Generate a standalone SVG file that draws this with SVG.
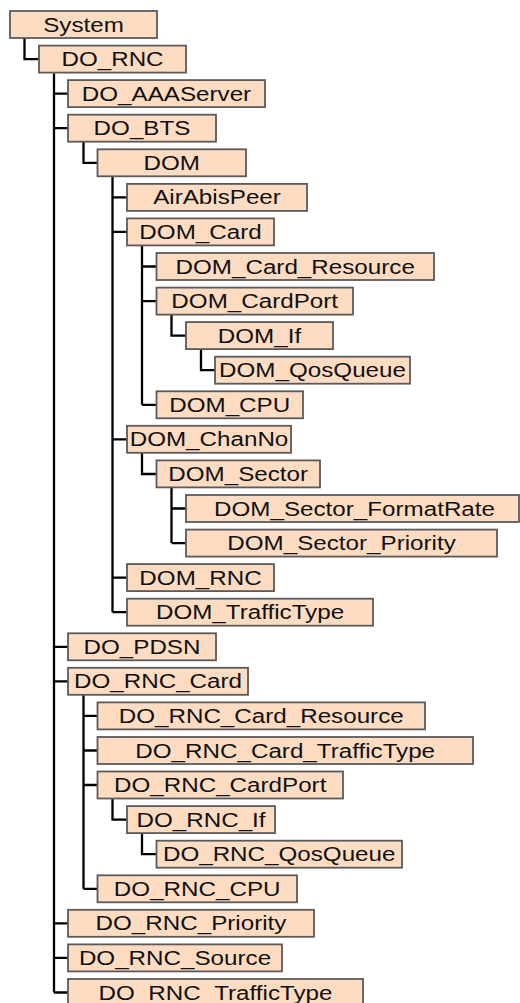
<svg xmlns="http://www.w3.org/2000/svg" width="520" height="1003" viewBox="0 0 520 1003">
<style>
.box{fill:#FDDCC2;stroke:#5a5a5a;stroke-width:1.8}
.lbl{font-family:"Liberation Sans",Arial,sans-serif;font-size:20px;fill:#111;text-anchor:middle}
.cn{fill:none;stroke:#000;stroke-width:2.3}
</style>
<rect width="520" height="1003" fill="#fff"/>
<g id="connectors">
<path class="cn" d="M24.5,38 V59.1 H39"/>
<path class="cn" d="M54,73.6 V992.5 M54,93.6 H68 M54,128.2 H68 M54,646.8 H68 M54,681.3 H68 M54,923.3 H68 M54,957.9 H68 M54,992.5 H68"/>
<path class="cn" d="M83.5,141.7 V162.8 H97.5"/>
<path class="cn" d="M112.5,176.3 V612.2 M112.5,197.4 H127 M112.5,231.9 H127 M112.5,439.3 H127 M112.5,577.6 H127 M112.5,612.2 H127"/>
<path class="cn" d="M142,245.4 V404.8 M142,266.5 H156.5 M142,301.1 H156.5 M142,404.8 H156.5"/>
<path class="cn" d="M171.5,314.6 V335.6 H186"/>
<path class="cn" d="M201,349.1 V370.2 H215"/>
<path class="cn" d="M142,452.8 V474 H156.5"/>
<path class="cn" d="M171.5,487.4 V543.1 M171.5,508.5 H186 M171.5,543.1 H186"/>
<path class="cn" d="M83.5,694.8 V888.8 M83.5,715.9 H97.5 M83.5,750.5 H97.5 M83.5,785 H97.5 M83.5,888.8 H97.5"/>
<path class="cn" d="M112.5,798.5 V819.6 H127"/>
<path class="cn" d="M142,833.1 V854.2 H156.5"/>
</g>
<g id="n0"><rect class="box" x="10" y="11" width="147" height="27"/><text class="lbl" transform="translate(83.5,31.5) scale(1.21,1)">System</text></g>
<g id="n1"><rect class="box" x="39" y="45.6" width="147" height="27"/><text class="lbl" transform="translate(112.5,66.1) scale(1.21,1)">DO_RNC</text></g>
<g id="n2"><rect class="box" x="68" y="80.1" width="197" height="27"/><text class="lbl" transform="translate(166.5,100.6) scale(1.21,1)">DO_AAAServer</text></g>
<g id="n3"><rect class="box" x="68" y="114.7" width="148" height="27"/><text class="lbl" transform="translate(142,135.2) scale(1.21,1)">DO_BTS</text></g>
<g id="n4"><rect class="box" x="97.5" y="149.3" width="148.5" height="27"/><text class="lbl" transform="translate(171.7,169.8) scale(1.21,1)">DOM</text></g>
<g id="n5"><rect class="box" x="127" y="183.9" width="180" height="27"/><text class="lbl" transform="translate(217,204.4) scale(1.21,1)">AirAbisPeer</text></g>
<g id="n6"><rect class="box" x="127" y="218.4" width="147" height="27"/><text class="lbl" transform="translate(200.5,238.9) scale(1.21,1)">DOM_Card</text></g>
<g id="n7"><rect class="box" x="156.5" y="253" width="277.5" height="27"/><text class="lbl" transform="translate(295.2,273.5) scale(1.21,1)">DOM_Card_Resource</text></g>
<g id="n8"><rect class="box" x="156.5" y="287.6" width="196.5" height="27"/><text class="lbl" transform="translate(254.7,308.1) scale(1.21,1)">DOM_CardPort</text></g>
<g id="n9"><rect class="box" x="186" y="322.1" width="147" height="27"/><text class="lbl" transform="translate(259.5,342.6) scale(1.21,1)">DOM_If</text></g>
<g id="n10"><rect class="box" x="215" y="356.7" width="195" height="27"/><text class="lbl" transform="translate(312.5,377.2) scale(1.21,1)">DOM_QosQueue</text></g>
<g id="n11"><rect class="box" x="156.5" y="391.3" width="146.5" height="27"/><text class="lbl" transform="translate(229.7,411.8) scale(1.21,1)">DOM_CPU</text></g>
<g id="n12"><rect class="box" x="127" y="425.8" width="164" height="27"/><text class="lbl" transform="translate(209,446.3) scale(1.21,1)">DOM_ChanNo</text></g>
<g id="n13"><rect class="box" x="156.5" y="460.4" width="163.5" height="27"/><text class="lbl" transform="translate(238.2,480.9) scale(1.21,1)">DOM_Sector</text></g>
<g id="n14"><rect class="box" x="186" y="495" width="333" height="27"/><text class="lbl" transform="translate(354.5,515.5) scale(1.21,1)">DOM_Sector_FormatRate</text></g>
<g id="n15"><rect class="box" x="186" y="529.6" width="311" height="27"/><text class="lbl" transform="translate(341.5,550.1) scale(1.21,1)">DOM_Sector_Priority</text></g>
<g id="n16"><rect class="box" x="127" y="564.1" width="147" height="27"/><text class="lbl" transform="translate(200.5,584.6) scale(1.21,1)">DOM_RNC</text></g>
<g id="n17"><rect class="box" x="127" y="598.7" width="246" height="27"/><text class="lbl" transform="translate(250,619.2) scale(1.21,1)">DOM_TrafficType</text></g>
<g id="n18"><rect class="box" x="68" y="633.3" width="148" height="27"/><text class="lbl" transform="translate(142,653.8) scale(1.21,1)">DO_PDSN</text></g>
<g id="n19"><rect class="box" x="68" y="667.8" width="180" height="27"/><text class="lbl" transform="translate(158,688.3) scale(1.21,1)">DO_RNC_Card</text></g>
<g id="n20"><rect class="box" x="97.5" y="702.4" width="327.5" height="27"/><text class="lbl" transform="translate(261.2,722.9) scale(1.21,1)">DO_RNC_Card_Resource</text></g>
<g id="n21"><rect class="box" x="97.5" y="737" width="375.5" height="27"/><text class="lbl" transform="translate(285.2,757.5) scale(1.21,1)">DO_RNC_Card_TrafficType</text></g>
<g id="n22"><rect class="box" x="97.5" y="771.5" width="245.5" height="27"/><text class="lbl" transform="translate(220.2,792) scale(1.21,1)">DO_RNC_CardPort</text></g>
<g id="n23"><rect class="box" x="127" y="806.1" width="148" height="27"/><text class="lbl" transform="translate(201,826.6) scale(1.21,1)">DO_RNC_If</text></g>
<g id="n24"><rect class="box" x="156.5" y="840.7" width="245.5" height="27"/><text class="lbl" transform="translate(279.2,861.2) scale(1.21,1)">DO_RNC_QosQueue</text></g>
<g id="n25"><rect class="box" x="97.5" y="875.3" width="199.5" height="27"/><text class="lbl" transform="translate(197.2,895.8) scale(1.21,1)">DO_RNC_CPU</text></g>
<g id="n26"><rect class="box" x="68" y="909.8" width="246" height="27"/><text class="lbl" transform="translate(191,930.3) scale(1.21,1)">DO_RNC_Priority</text></g>
<g id="n27"><rect class="box" x="68" y="944.4" width="214" height="27"/><text class="lbl" transform="translate(175,964.9) scale(1.21,1)">DO_RNC_Source</text></g>
<g id="n28"><rect class="box" x="68" y="979" width="295" height="27"/><text class="lbl" transform="translate(215.5,999.5) scale(1.21,1)">DO_RNC_TrafficType</text></g>
</svg>
